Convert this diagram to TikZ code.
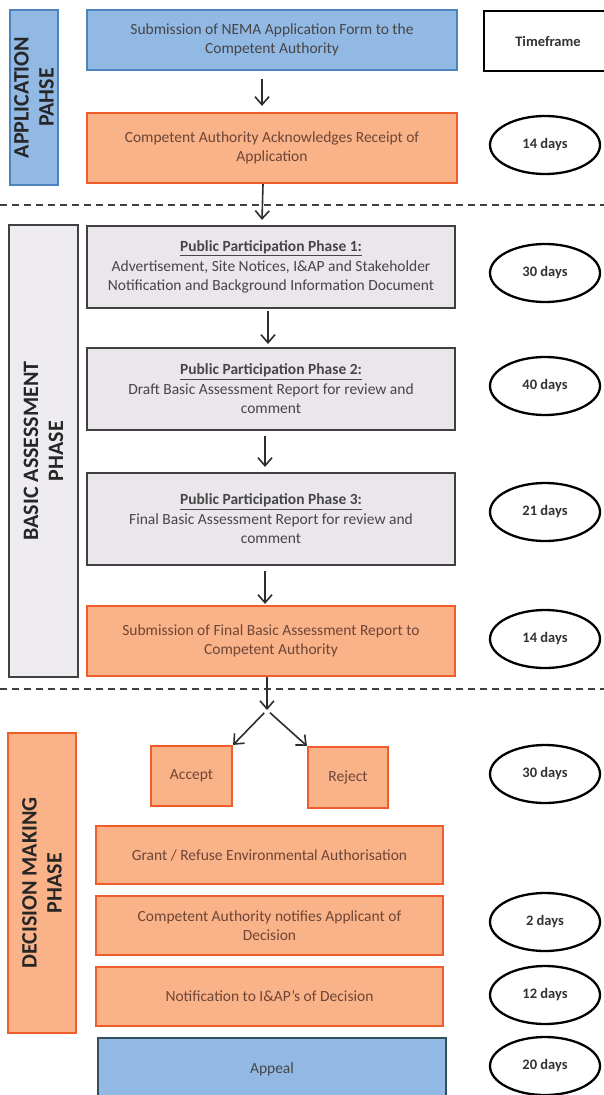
\documentclass[tikz,border=0pt]{standalone}
\usepackage{fontspec}
\setmainfont{Carlito}
\usetikzlibrary{arrows.meta,shapes.geometric}
\definecolor{bluefill}{RGB}{146,184,228}
\definecolor{blueline}{RGB}{79,129,189}
\definecolor{orgfill}{RGB}{250,178,136}
\definecolor{orgline}{RGB}{240,92,44}
\definecolor{greyfill}{RGB}{234,230,236}
\definecolor{sidegrey}{RGB}{238,236,240}
\definecolor{darkline}{RGB}{64,64,64}
\definecolor{txtgrey}{RGB}{70,70,70}
\definecolor{txtorg}{RGB}{110,70,55}
\definecolor{appline}{RGB}{50,80,90}
\definecolor{arrowc}{RGB}{45,45,45}
\tikzset{
  boxbase/.style={rectangle, line width=2.2pt, align=center, inner sep=2pt,
    font=\fontsize{15.5}{19.5}\selectfont},
  bluebox/.style={boxbase, fill=bluefill, draw=blueline, text=txtgrey},
  orgbox/.style={boxbase, fill=orgfill, draw=orgline, text=txtorg},
  greybox/.style={boxbase, fill=greyfill, draw=darkline, text=txtgrey},
  sidebox/.style={rectangle, line width=2.2pt},
  sidetext/.style={rotate=90, align=center, text=black!85,
    font=\bfseries\fontsize{22}{25}\selectfont},
  timeell/.style={ellipse, draw=black, line width=2.3pt, fill=white,
    minimum width=110pt, minimum height=58pt, inner sep=0pt,
    font=\bfseries\fontsize{14.5}{17}\selectfont, text=black!80},
  arr/.style={-{Straight Barb[length=8pt,width=14pt,line width=1.6pt]},
    line width=1.6pt, draw=arrowc},
  sep/.style={draw=black!75, line width=1.4pt, dash pattern=on 7pt off 5pt}
}
\begin{document}
\begin{tikzpicture}[x=1pt,y=-1pt]
\useasboundingbox (0,0) rectangle (604,1095);

% ---- Application phase
\node[sidebox, fill=bluefill, draw=blueline, minimum width=48pt, minimum height=175pt] (s1) at (34,97.5) {};
\node[sidetext] (s1t) at (s1.center) {APPLICATION\\PAHSE};

\node[bluebox, minimum width=370pt, minimum height=60pt] (b1) at (272,40)
  {Submission of NEMA Application Form to the\\Competent Authority};
\node[rectangle, draw=black, line width=2.6pt, fill=white, minimum width=128pt, minimum height=60pt,
  font=\bfseries\fontsize{14.5}{17}\selectfont, text=black!80] (tf) at (548,41) {Timeframe};

\node[orgbox, minimum width=370pt, minimum height=70pt] (b2) at (272,148)
  {Competent Authority Acknowledges Receipt of\\Application};
\node[timeell] (e1) at (545,145) {14 days};

\draw[sep] (0,205) -- (604,205);

% ---- Basic assessment phase
\node[sidebox, fill=sidegrey, draw=darkline, minimum width=69pt, minimum height=452pt] (s2) at (43.5,451) {};
\node[sidetext] (s2t) at (s2.center) {BASIC ASSESSMENT\\PHASE};

\node[greybox, minimum width=368pt, minimum height=82pt] (b3) at (271,267)
  {\underline{\textbf{Public Participation Phase 1:}}\\Advertisement, Site Notices, I\&AP and Stakeholder\\Notification and Background Information Document};
\node[timeell] (e2) at (545,273) {30 days};

\node[greybox, minimum width=368pt, minimum height=82pt] (b4) at (271,389)
  {\underline{\textbf{Public Participation Phase 2:}}\\Draft Basic Assessment Report for review and\\comment};
\node[timeell] (e3) at (545,386) {40 days};

\node[greybox, minimum width=368pt, minimum height=92pt] (b5) at (271,519)
  {\underline{\textbf{Public Participation Phase 3:}}\\Final Basic Assessment Report for review and\\comment};
\node[timeell] (e4) at (545,512) {21 days};

\node[orgbox, minimum width=368pt, minimum height=70pt] (b6) at (271,641)
  {Submission of Final Basic Assessment Report to\\Competent Authority};
\node[timeell] (e5) at (545,639) {14 days};

\draw[sep] (0,689) -- (604,689);

% ---- Decision making phase
\node[sidebox, fill=orgfill, draw=orgline, minimum width=68pt, minimum height=300pt] (s3) at (42,883) {};
\node[sidetext] (s3t) at (s3.center) {DECISION MAKING\\PHASE};

\coordinate (sp) at (267,710);
\node[orgbox, minimum width=81pt, minimum height=60pt] (acc) at (191.5,776) {Accept};
\node[orgbox, minimum width=80pt, minimum height=61pt] (rej) at (348,777.5) {Reject};
\node[timeell] (e6) at (545,774) {30 days};

\node[orgbox, minimum width=347pt, minimum height=58pt] (g) at (269.5,855)
  {Grant / Refuse Environmental Authorisation};
\node[orgbox, minimum width=347pt, minimum height=59pt] (ca) at (269.5,925.5)
  {Competent Authority notifies Applicant of\\Decision};
\node[timeell] (e7) at (545,922) {2 days};
\node[orgbox, minimum width=347pt, minimum height=59pt] (nt) at (269.5,996.5)
  {Notification to I\&AP's of Decision};
\node[timeell] (e8) at (545,995) {12 days};
\node[bluebox, draw=appline, minimum width=348pt, minimum height=62pt] (ap) at (272,1069) {Appeal};
\node[timeell] (e9) at (545,1066) {20 days};

% ---- Connectors
\draw[arr] ([xshift=-10pt,yshift=-8pt]b1.south) -- ([xshift=-10pt,yshift=6pt]b2.north);
\draw[arr] ([xshift=-9pt]b2.south) -- ([xshift=-9pt,yshift=5pt]b3.north);
\draw[arr] ([xshift=-3pt,yshift=-2pt]b3.south) -- ([xshift=-3pt,yshift=3pt]b4.north);
\draw[arr] ([xshift=-6pt,yshift=-5pt]b4.south) -- ([xshift=-6pt,yshift=5pt]b5.north);
\draw[arr] ([xshift=-6pt,yshift=-5pt]b5.south) -- ([xshift=-6pt,yshift=1pt]b6.north);
\draw[arr] ([xshift=-4pt]b6.south) -- (sp);
\draw[arr, shorten <=4pt] (sp) -- (acc.north east);
\draw[arr, shorten <=4pt] (sp) -- (rej.north west);
\end{tikzpicture}
\end{document}
